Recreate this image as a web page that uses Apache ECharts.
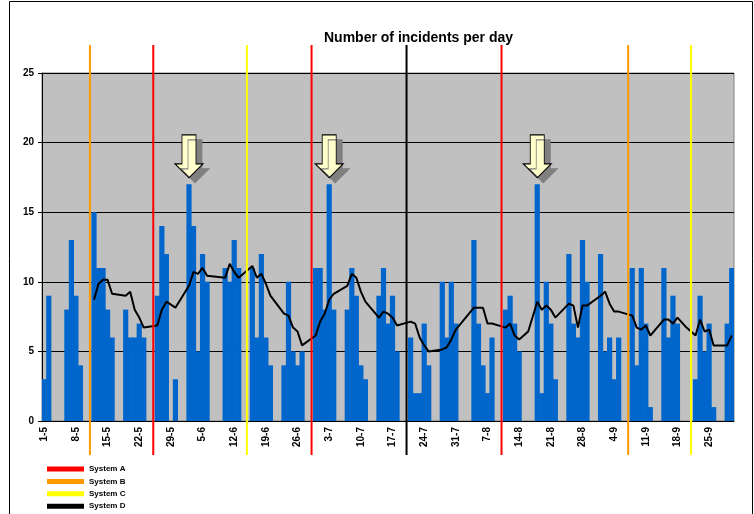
<!DOCTYPE html>
<html>
<head>
<meta charset="utf-8">
<script src="https://cdn.jsdelivr.net/npm/echarts@6/dist/echarts.min.js"></script>
<style>
  html, body { margin: 0; padding: 0; background: #fff; }
  #chart { width: 754px; height: 514px; }
</style>
</head>
<body>
<div id="chart"></div>
<script>
// one category per day, 1-5 .. 30-9
const months = [[5, 31], [6, 30], [7, 31], [8, 31], [9, 30]];
const days = [];
months.forEach(([m, n]) => {
  for (let d = 1; d <= n; d++) days.push(d + "-" + m);
});

// incidents per day (0 = no data), one row per week
const counts = [
  3, 9, 0, 0, 0, 8, 13,
  9, 4, 0, 0, 15, 11, 11,
  8, 6, 0, 0, 8, 6, 6,
  7, 6, 0, 0, 9, 14, 12,
  0, 3, 0, 0, 17, 14, 5,
  12, 10, 0, 0, 0, 11, 10,
  13, 11, 0, 0, 11, 6, 12,
  6, 4, 0, 0, 4, 10, 5,
  4, 5, 0, 0, 11, 11, 8,
  17, 8, 0, 0, 8, 11, 9,
  4, 3, 0, 0, 9, 11, 7,
  9, 5, 0, 0, 6, 2, 2,
  7, 4, 0, 0, 10, 6, 10,
  7, 0, 0, 0, 13, 7, 4,
  2, 6, 0, 0, 8, 9, 7,
  5, 0, 0, 0, 17, 2, 10,
  7, 3, 0, 0, 12, 7, 6,
  13, 10, 0, 0, 12, 5, 6,
  3, 6, 0, 0, 11, 4, 11,
  7, 1, 0, 0, 11, 6, 9,
  7, 0, 0, 0, 3, 9, 5,
  7, 1, 0, 0, 7, 11
];

// trend line (null = no point that day)
const trend = [
  null, null, null, null, null, null, null,
  null, null, null, null, 8.71, 9.86, 10.14,
  10.14, 9.14, null, null, 9.0, 9.29, 8.0,
  7.43, 6.71, null, null, 6.86, 8.0, 8.57,
  null, 8.14, null, null, 9.71, 10.71, 10.57,
  11.0, 10.43, null, null, null, 10.29, 11.29,
  10.71, 10.29, null, null, 11.14, 10.29, 10.57,
  9.86, 9.0, null, null, 7.71, 7.57, 6.71,
  6.43, 5.43, null, null, 6.14, 7.14, 7.71,
  8.71, 9.14, null, null, 9.71, 10.57, 10.29,
  9.29, 8.57, null, null, 7.43, 7.86, 7.71,
  7.43, 6.86, null, null, 7.14, 7.0, 6.0,
  5.43, 5.0, null, null, 5.14, 5.29, 5.86,
  6.57, null, null, null, 8.14, 8.14, 8.14,
  7.0, 7.0, null, null, 6.71, 7.0, 6.14,
  5.86, null, 6.43, null, 8.57, 8.0, 8.29,
  8.0, 7.43, null, null, 8.43, 8.29, 6.71,
  8.29, 8.29, null, null, 9.0, 9.29, 8.43,
  7.86, 7.86, null, null, 7.57, 6.71, 6.57,
  6.86, 6.14, null, null, 7.29, 7.29, 7.0,
  7.43, null, 6.71, null, 6.14, 7.29, 6.43,
  6.57, 5.43, null, null, 5.43, 6.14
];

// days pointed at by the arrows
const arrowDays = ["2-6", "3-7", "18-8"];

// system changes, position in days from 1-5
const systems = ["System A", "System B", "System C", "System D"];
const systemColors = ["#FF0000", "#FF9900", "#FFFF00", "#000000"];
const systemDays = [
  [24.6, 59.6, 101.6],
  [10.6, 129.6],
  [45.3, 143.5],
  [80.6]
];

const arrowPath = "path://M7,0 L21,0 L21,29 L28,29 L14,43 L0,29 L7,29 Z";
const font = "Arial, 'Liberation Sans', sans-serif";

function systemLine(params, api) {
  const x = api.coord([api.value(0), 0])[0];
  const r = params.coordSys;
  return {
    type: "line",
    shape: { x1: x, y1: r.y - 28, x2: x, y2: r.y + r.height + 34 },
    style: { stroke: api.visual("color"), lineWidth: 2 }
  };
}

const chart = echarts.init(document.getElementById("chart"));

const option = {
  animation: false,
  title: {
    text: "Number of incidents per day",
    left: 319,
    top: 26,
    textStyle: { fontSize: 14, fontWeight: "bold", fontFamily: font, color: "#000" }
  },
  // one small legend per system so the rows stay in one column
  legend: systems.map((name, i) => ({
    data: [name],
    left: 42,
    top: 460 + i * 12.4,
    icon: "rect",
    itemWidth: 37,
    itemHeight: 5,
    selectedMode: false,
    textStyle: { fontSize: 8, fontWeight: "bold", fontFamily: font, color: "#000" }
  })),
  graphic: [{
    type: "rect",
    silent: true,
    shape: { x: 9.5, y: 1.5, width: 743, height: 530 },
    style: { fill: null, stroke: "#000", lineWidth: 1 }
  }],
  grid: {
    left: 42,
    top: 73,
    width: 692,
    height: 348,
    show: true,
    backgroundColor: "#C0C0C0",
    borderColor: "#808080",
    borderWidth: 1
  },
  xAxis: [{
    type: "category",
    data: days,
    boundaryGap: true,
    axisLine: { lineStyle: { color: "#000", width: 1 } },
    axisTick: { interval: 6, length: 4, lineStyle: { color: "#000" } },
    axisLabel: {
      interval: 6,
      rotate: 90,
      margin: 6,
      padding: [0, 0, 5, 0],
      fontSize: 10,
      fontWeight: "bold",
      fontFamily: font,
      color: "#000"
    },
    splitLine: { show: false }
  }, {
    type: "value",
    min: 0,
    max: days.length,
    show: false
  }],
  yAxis: {
    type: "value",
    min: 0,
    max: 25,
    interval: 5,
    axisLine: { show: true, lineStyle: { color: "#000" } },
    axisTick: { show: true, length: 4, lineStyle: { color: "#000" } },
    axisLabel: { margin: 8, fontSize: 10, fontWeight: "bold", fontFamily: font, color: "#000" },
    splitLine: { lineStyle: { color: "#000", width: 1 } }
  },
  series: [
    {
      name: "Incidents",
      type: "bar",
      data: counts,
      barWidth: "115%",
      itemStyle: { color: "#0066CC" },
      markPoint: {
        symbol: arrowPath,
        symbolSize: [28, 43],
        symbolOffset: [0, -28],
        label: { show: false },
        itemStyle: {
          color: "#FFFFCC",
          borderColor: "#000",
          borderWidth: 1,
          shadowColor: "#808080",
          shadowOffsetX: 6,
          shadowOffsetY: 5,
          shadowBlur: 0
        },
        data: arrowDays.map(d => ({ coord: [d, counts[days.indexOf(d)]] }))
      }
    },
    {
      name: "Trend",
      type: "line",
      data: trend,
      connectNulls: true,
      symbol: "none",
      z: 3,
      lineStyle: { color: "#000", width: 2 }
    }
  ].concat(systems.map((name, i) => ({
    name: name,
    type: "custom",
    xAxisIndex: 1,
    z: 4,
    itemStyle: { color: systemColors[i] },
    renderItem: systemLine,
    encode: { x: 0, y: 1 },
    data: systemDays[i].map(p => [p, 0])
  })))
};

chart.setOption(option);
</script>
</body>
</html>
